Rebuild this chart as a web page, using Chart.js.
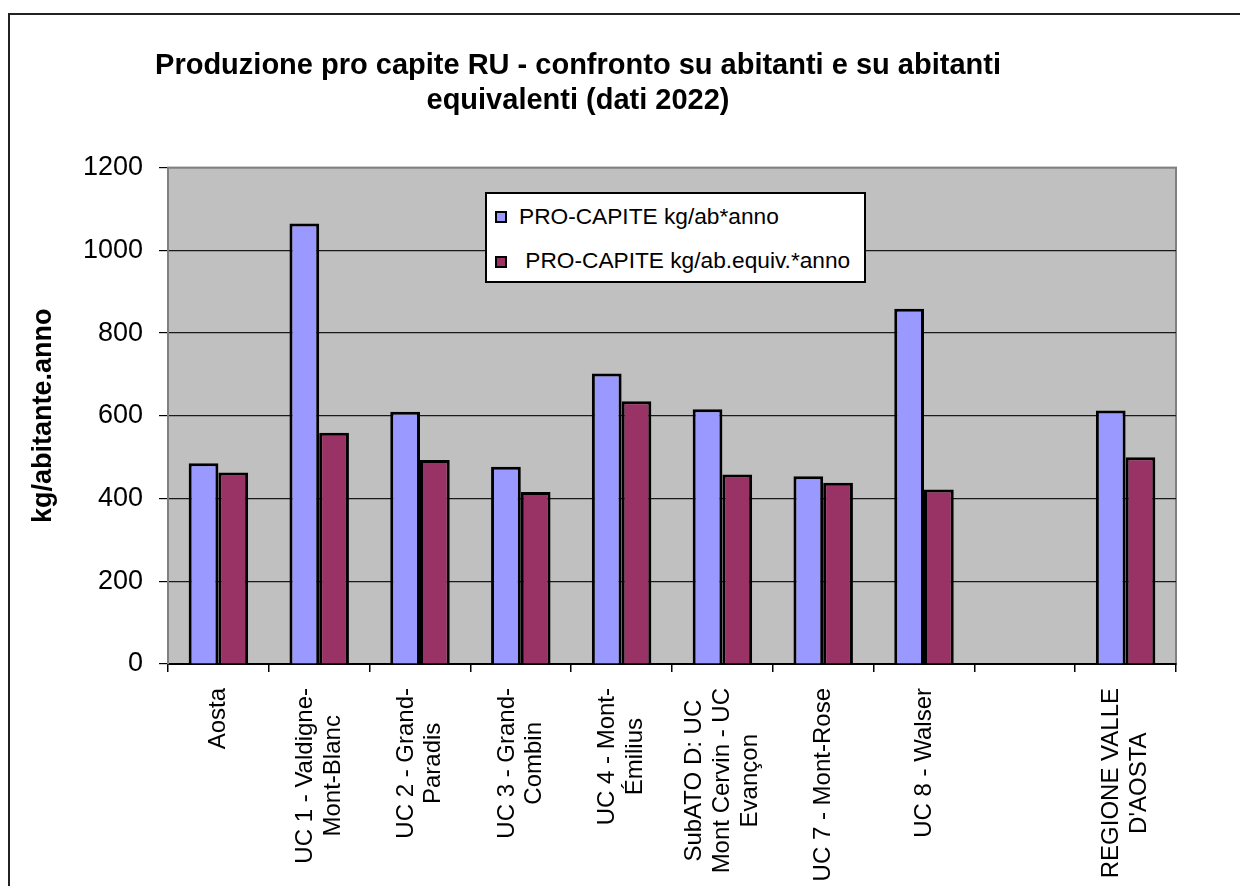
<!DOCTYPE html>
<html lang="it">
<head>
  <meta charset="UTF-8">
  <title>Produzione pro capite RU</title>
  <script src="https://cdn.jsdelivr.net/npm/chart.js"></script>
  <style>
    body {
      margin: 0;
      background: #fff;
      width: 1240px;
      height: 886px;
      overflow: hidden;
      position: relative;
      font-family: "Liberation Sans", Arial, sans-serif;
    }
    #frame {
      position: absolute;
      left: 8px;
      top: 13px;
      width: 1400px;
      height: 1000px;
      border-left: 2px solid #222;
      border-top: 2px solid #222;
    }
    #chartBox { position: absolute; left: 0; top: 0; }
    #legend {
      position: absolute;
      left: 485px;
      top: 192px;
      width: 377px;
      height: 87px;
      background: #fff;
      border: 2px solid #000;
    }
    .swatch {
      position: absolute;
      left: 8px;
      width: 8px;
      height: 8px;
      border: 2px solid #000;
    }
    .item {
      position: absolute;
      left: 32px;
      font-size: 22.7px;
      line-height: 22px;
      white-space: pre;
      color: #000;
    }
  </style>
</head>
<body>
  <div id="frame"></div>
  <canvas id="chartBox" width="1240" height="886"></canvas>
  <div id="legend"></div>

<script>
  // categorie (etichette asse x, su più righe come nel grafico originale)
  const categories = [
    'Aosta',
    ['UC 1 - Valdigne-', 'Mont-Blanc'],
    ['UC 2 - Grand-', 'Paradis'],
    ['UC 3 - Grand-', 'Combin'],
    ['UC 4 - Mont-', 'Émilius'],
    ['SubATO D: UC', 'Mont Cervin - UC', 'Evançon'],
    'UC 7 - Mont-Rose',
    'UC 8 - Walser',
    '',
    ['REGIONE VALLE', "D'AOSTA"]
  ];

  const seriesNames = ['PRO-CAPITE kg/ab*anno', ' PRO-CAPITE kg/ab.equiv.*anno'];

  // kg per abitante / anno
  const perAbitante = [485, 1065, 610, 477, 702, 616, 454, 859, null, 613];
  // kg per abitante equivalente / anno
  const perAbEquiv = [463, 559, 493, 416, 635, 458, 438, 422, null, 500];

  const yMin = 0;
  const yMax = 1200;
  const yStep = 200;

  const chartTitle = ['Produzione pro capite RU - confronto su abitanti e su abitanti', 'equivalenti (dati 2022)'];
  const yTitle = 'kg/abitante.anno';

  Chart.defaults.font.family = '"Liberation Sans", Arial, sans-serif';
  Chart.defaults.color = '#000';

  // sfondo grigio dell'area del grafico
  const plotBg = {
    id: 'plotBg',
    beforeDraw(chart) {
      const { ctx, chartArea: a } = chart;
      ctx.save();
      ctx.fillStyle = '#c0c0c0';
      ctx.fillRect(a.left, a.top, a.width, a.height);
      ctx.strokeStyle = '#808080';
      ctx.lineWidth = 2;
      ctx.strokeRect(a.left, a.top, a.width, a.height);
      ctx.restore();
    }
  };

  // titolo centrato come nell'originale (non sul canvas intero)
  const titleShift = {
    id: 'titleShift',
    afterLayout(chart) {
      chart.titleBlock.left = 0;
      chart.titleBlock.right = 1156;
    }
  };

  // etichette asse x ruotate, righe centrate tra loro
  const xLabels = {
    id: 'xLabels',
    afterDraw(chart) {
      const ctx = chart.ctx;
      const scale = chart.scales.x;
      const lineH = 27.6;
      ctx.save();
      ctx.font = '24px "Liberation Sans", Arial, sans-serif';
      ctx.fillStyle = '#000';
      ctx.textAlign = 'center';
      ctx.textBaseline = 'middle';
      chart.data.labels.forEach((label, i) => {
        const lines = Array.isArray(label) ? label : [label];
        const widest = Math.max(...lines.map(l => ctx.measureText(l).width));
        ctx.save();
        ctx.translate(scale.getPixelForTick(i), scale.top + 24);
        ctx.rotate(-Math.PI / 2);
        lines.forEach((line, j) => {
          ctx.fillText(line, -widest / 2, (j - (lines.length - 1) / 2) * lineH);
        });
        ctx.restore();
      });
      ctx.restore();
    }
  };

  const ctx = document.getElementById('chartBox').getContext('2d');

  const chart = new Chart(ctx, {
    type: 'bar',
    data: {
      labels: categories,
      datasets: [
        {
          label: seriesNames[0],
          data: perAbitante,
          backgroundColor: '#9999ff',
          borderColor: '#000',
          borderWidth: 3
        },
        {
          label: seriesNames[1],
          data: perAbEquiv,
          backgroundColor: '#993366',
          borderColor: '#000',
          borderWidth: 3
        }
      ]
    },
    options: {
      responsive: false,
      animation: false,
      devicePixelRatio: 1,
      datasets: {
        bar: { categoryPercentage: 0.59, barPercentage: 1.0 }
      },
      layout: {
        padding: { left: 27, right: 64, top: 0, bottom: 0 }
      },
      plugins: {
        legend: { display: false },
        tooltip: { enabled: false },
        title: {
          display: true,
          text: chartTitle,
          color: '#000',
          font: { size: 29, weight: 'bold', lineHeight: 1.2 },
          padding: { top: 49, bottom: 49 }
        }
      },
      scales: {
        x: {
          ticks: { display: false },
          grid: {
            drawOnChartArea: false,
            drawTicks: true,
            tickLength: 8,
            tickColor: '#000',
            lineWidth: 1.5
          },
          border: { color: '#000', width: 2 },
          afterFit(scale) { scale.height = 222; }
        },
        y: {
          min: yMin,
          max: yMax,
          ticks: {
            stepSize: yStep,
            color: '#000',
            font: { size: 27 },
            padding: 16,
            callback: v => String(v)
          },
          grid: {
            color: c => (c.tick && c.tick.value === yMax) ? '#808080' : '#1a1a1a',
            tickColor: '#000',
            tickLength: 9,
            lineWidth: 1.2
          },
          border: { color: '#808080', width: 2 },
          title: {
            display: true,
            text: yTitle,
            color: '#000',
            font: { size: 27, weight: 'bold', lineHeight: 1.2 },
            padding: { top: 0, bottom: 0 }
          },
          afterFit(scale) { scale.width = 141; }
        }
      }
    },
    plugins: [plotBg, titleShift, xLabels]
  });

  // legenda HTML nel riquadro bianco
  const legendBox = document.getElementById('legend');
  const items = chart.options.plugins.legend.labels.generateLabels(chart);
  items.forEach((item, i) => {
    const sw = document.createElement('div');
    sw.className = 'swatch';
    sw.style.top = (17 + i * 45) + 'px';
    sw.style.background = item.fillStyle;
    legendBox.appendChild(sw);

    const txt = document.createElement('div');
    txt.className = 'item';
    txt.style.top = (11 + i * 44) + 'px';
    txt.textContent = item.text;
    legendBox.appendChild(txt);
  });
</script>
</body>
</html>
